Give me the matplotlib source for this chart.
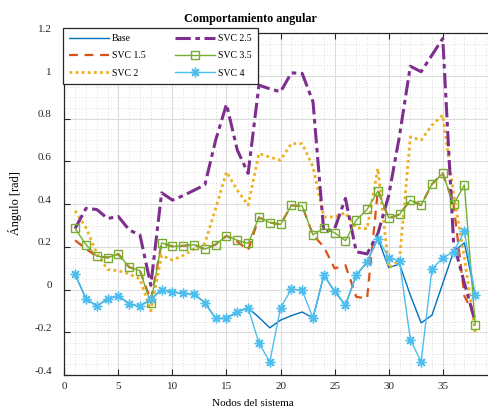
import numpy as np
import matplotlib
matplotlib.use("Agg")
import matplotlib.pyplot as plt
from matplotlib.transforms import ScaledTranslation
from matplotlib.ticker import MultipleLocator

plt.rcParams['font.family'] = ['Liberation Serif', 'DejaVu Serif']

nodos = list(range(1, 39))

base = [0.071, -0.042, -0.078, -0.043, -0.029, -0.068, -0.078, -0.045, 0.0, -0.011,
        -0.018, -0.02, -0.062, -0.135, -0.135, -0.104, -0.086, -0.13, -0.179, -0.143,
        -0.122, -0.105, -0.133, 0.067, -0.008, -0.073, 0.067, 0.13, 0.239, 0.103,
        0.119, -0.026, -0.156, -0.12, 0.029, 0.177, 0.219, -0.026]
svc_15 = [0.231, 0.19, 0.156, 0.150, 0.166, 0.105, 0.088, -0.05, 0.219, 0.202,
          0.205, 0.21, 0.189, 0.211, 0.252, 0.225, 0.185, 0.338, 0.314, 0.305,
          0.394, 0.391, 0.256, 0.2, 0.099, 0.114, -0.034, -0.042, 0.466, 0.333,
          0.352, 0.419, 0.395, 0.494, 0.544, 0.4, -0.03, -0.13]
svc_2 = [0.369, 0.29, 0.17, 0.094, 0.088, 0.073, 0.05, -0.1, 0.161, 0.138,
         0.16, 0.19, 0.216, 0.38, 0.551, 0.465, 0.395, 0.637, 0.62, 0.606,
         0.684, 0.683, 0.575, 0.34, 0.34, 0.36, 0.289, 0.285, 0.567, 0.103,
         0.137, 0.715, 0.7, 0.77, 0.817, 0.45, 0.15, -0.2]
svc_25 = [0.286, 0.38, 0.375, 0.333, 0.342, 0.279, 0.255, 0.02, 0.453, 0.419,
          0.44, 0.465, 0.49, 0.70, 0.868, 0.653, 0.544, 0.957, 0.94, 0.926,
          1.015, 1.012, 0.879, 0.27, 0.285, 0.427, 0.177, 0.167, 0.262, 0.44,
          0.72, 1.046, 1.02, 1.098, 1.176, 0.22, 0.03, -0.15]
svc_35 = [0.286, 0.211, 0.156, 0.150, 0.166, 0.105, 0.088, -0.065, 0.219, 0.202,
          0.205, 0.21, 0.189, 0.211, 0.252, 0.231, 0.216, 0.338, 0.314, 0.305,
          0.394, 0.391, 0.256, 0.288, 0.266, 0.229, 0.325, 0.375, 0.461, 0.336,
          0.352, 0.419, 0.395, 0.494, 0.544, 0.399, 0.49, -0.164]
svc_4 = [0.071, -0.042, -0.078, -0.043, -0.029, -0.068, -0.078, -0.045, 0.0, -0.011,
         -0.018, -0.02, -0.062, -0.135, -0.135, -0.104, -0.086, -0.25, -0.339, -0.086,
         0.002, -0.003, -0.133, 0.067, -0.008, -0.073, 0.067, 0.13, 0.239, 0.15,
         0.134, -0.234, -0.339, 0.096, 0.148, 0.177, 0.273, -0.026]

fig = plt.figure(figsize=(4.89, 4.09), dpi=100)
ax = fig.add_axes([0.1315, 0.0831, 0.8845, 0.8355])

ax.plot(nodos, base, color='#0072BD', lw=1.0, label='Base')
ax.plot(nodos, svc_15, color='#D95319', lw=1.6, ls=(0, (4, 3)), label='SVC 1.5')
ax.plot(nodos, svc_2, color='#EDB120', lw=2.0, ls=(0, (1, 1.2)), label='SVC 2')
ax.plot(nodos, svc_25, color='#7E2F8E', lw=2.2, ls=(0, (5, 1.5, 1.5, 1.5)), label='SVC 2.5')
ax.plot(nodos, svc_35, color='#77AC30', lw=1.0, marker='s', ms=6, mfc='none',
        mew=1.0, label='SVC 3.5')
ax.plot(nodos, svc_4, color='#4DBEEE', lw=1.0, marker=(8, 2, 0), ms=7,
        mew=1.0, label='SVC 4')

ax.set_xlim(0, 40)
ax.set_ylim(-0.4, 1.2)
ax.set_xticks(range(0, 41, 5))
ax.set_yticks(np.arange(-0.4, 1.21, 0.2))
ax.set_yticklabels(['%g' % round(v, 1) for v in np.arange(-0.4, 1.21, 0.2)])
ax.xaxis.set_minor_locator(MultipleLocator(1))
ax.yaxis.set_minor_locator(MultipleLocator(0.05))
ax.grid(True, which='major', color='#dcdcdc', lw=0.8)
ax.grid(True, which='minor', color='#d0d0d0', lw=0.6, ls=(0, (1, 2.5)))
ax.set_axisbelow(True)
ax.tick_params(which='major', direction='in', length=4, width=0.8,
               top=True, right=True, labelsize=8, colors='#262626')
ax.tick_params(which='minor', length=0)
ax.tick_params(axis='y', pad=9)
ax.tick_params(axis='x', pad=5)
for s in ax.spines.values():
    s.set_color('#262626')
    s.set_linewidth(0.9)

shift = ScaledTranslation(0, 5 / 100, fig.dpi_scale_trans)
for lab in ax.get_yticklabels():
    lab.set_transform(lab.get_transform() + shift)

fig.text(250 / 489, 1 - 19 / 409, 'Comportamiento angular', ha='center', va='center',
         fontsize=8.7, fontweight='bold')
fig.text(253 / 489, 1 - 404 / 409, 'Nodos del sistema', ha='center', va='center', fontsize=8)
fig.text(15 / 489, 1 - 203 / 409, 'Ángulo [rad]', ha='center', va='center',
         rotation=90, fontsize=8.8)

leg = ax.legend(loc='upper left', bbox_to_anchor=(-0.003, 1.015), ncol=2, fontsize=7,
                handlelength=4.1, columnspacing=3.0, handletextpad=0.35,
                borderpad=0.6, labelspacing=0.86, fancybox=False, framealpha=1,
                edgecolor='#262626', borderaxespad=0)
leg.get_frame().set_linewidth(0.9)

fig.savefig('out.png', dpi=100)
